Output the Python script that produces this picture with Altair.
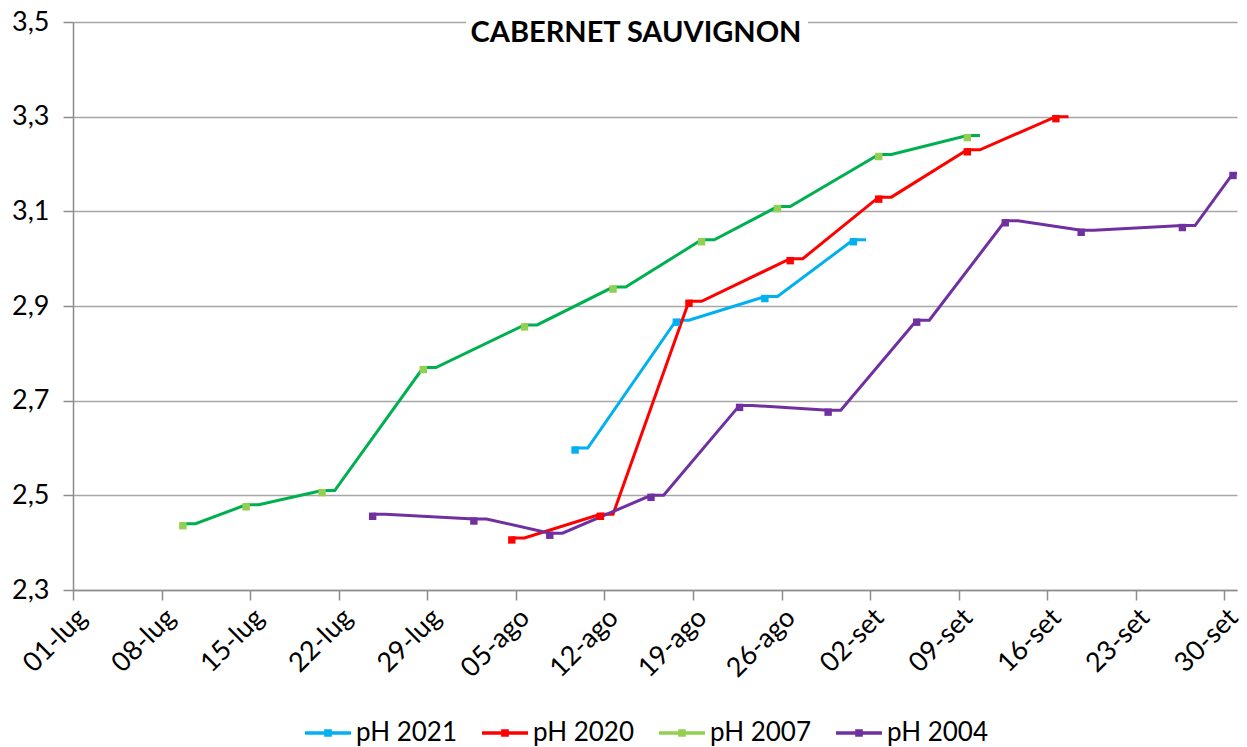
import altair as alt
import pandas as pd
from datetime import datetime, timedelta

# ---- data ----
chart_title = "CABERNET SAUVIGNON"
series_names = ["pH 2021", "pH 2020", "pH 2007", "pH 2004"]

dates_2021 = ["2021-08-10", "2021-08-18", "2021-08-25", "2021-09-01"]
ph_2021 = [2.60, 2.87, 2.92, 3.04]

dates_2020 = ["2021-08-05", "2021-08-12", "2021-08-19", "2021-08-27",
              "2021-09-03", "2021-09-10", "2021-09-17"]
ph_2020 = [2.41, 2.46, 2.91, 3.00, 3.13, 3.23, 3.30]

dates_2007 = ["2021-07-10", "2021-07-15", "2021-07-21", "2021-07-29", "2021-08-06",
              "2021-08-13", "2021-08-20", "2021-08-26", "2021-09-03", "2021-09-10"]
ph_2007 = [2.44, 2.48, 2.51, 2.77, 2.86, 2.94, 3.04, 3.11, 3.22, 3.26]

dates_2004 = ["2021-07-25", "2021-08-02", "2021-08-08", "2021-08-16", "2021-08-23",
              "2021-08-30", "2021-09-06", "2021-09-13", "2021-09-19", "2021-09-27",
              "2021-10-01"]
ph_2004 = [2.46, 2.45, 2.42, 2.50, 2.69, 2.68, 2.87, 3.08, 3.06, 3.07, 3.18]

x_tick_dates = ["2021-07-01", "2021-07-08", "2021-07-15", "2021-07-22", "2021-07-29",
                "2021-08-05", "2021-08-12", "2021-08-19", "2021-08-26", "2021-09-02",
                "2021-09-09", "2021-09-16", "2021-09-23", "2021-09-30"]
x_domain = ["2021-07-01", "2021-10-01"]
y_ticks = [2.3, 2.5, 2.7, 2.9, 3.1, 3.3, 3.5]
month_abbr = ["gen", "feb", "mar", "apr", "mag", "giu",
              "lug", "ago", "set", "ott", "nov", "dic"]

line_colors = ["#00B0F0", "#FF0000", "#00B050", "#7030A0"]
marker_colors = ["#00B0F0", "#FF0000", "#92D050", "#7030A0"]
legend_colors = ["#00B0F0", "#FF0000", "#92D050", "#7030A0"]

# ---- tables ----
all_dates = [dates_2021, dates_2020, dates_2007, dates_2004]
all_vals = [ph_2021, ph_2020, ph_2007, ph_2004]

pt_rows, ln_rows = [], []
for name, ds, vs in zip(series_names, all_dates, all_vals):
    for d, v in zip(ds, vs):
        dt = datetime.strptime(d, "%Y-%m-%d")
        pt_rows.append({"series": name, "date": dt.strftime("%Y-%m-%d"), "ph": v})
        ln_rows.append({"series": name, "date": dt.strftime("%Y-%m-%d"), "ph": v})
        ln_rows.append({"series": name, "date": (dt + timedelta(days=1)).strftime("%Y-%m-%d"), "ph": v})
points = pd.DataFrame(pt_rows)
lines = pd.DataFrame(ln_rows)
legend_df = pd.DataFrame({"series": series_names})
title_df = pd.DataFrame({"t": [chart_title]})


def dt_obj(s):
    t = datetime.strptime(s, "%Y-%m-%d")
    return alt.DateTime(year=t.year, month=t.month, date=t.day, utc=True)


FONT = "Lato"
month_expr = "[" + ",".join("'%s'" % m for m in month_abbr) + "]"

x_enc = alt.X(
    "date:T",
    scale=alt.Scale(type="utc", domain=[dt_obj(x_domain[0]), dt_obj(x_domain[1])]),
    axis=alt.Axis(
        title=None, grid=False, values=[dt_obj(s) for s in x_tick_dates],
        labelExpr="utcFormat(datum.value, '%d') + '-' + " + month_expr + "[utcmonth(datum.value)]",
        labelAngle=-45, labelFont=FONT, labelFontSize=27, labelColor="#000000",
        tickSize=10, tickColor="#8C8C8C", tickWidth=1.5,
        domainColor="#8C8C8C", domainWidth=1.5, labelPadding=4,
    ),
)
y_enc = alt.Y(
    "ph:Q",
    scale=alt.Scale(domain=[y_ticks[0], y_ticks[-1]], zero=False, nice=False),
    axis=alt.Axis(
        title=None, values=y_ticks,
        labelExpr="replace(format(datum.value, '.1f'), '.', ',')",
        labelFont=FONT, labelFontSize=27, labelColor="#000000", labelPadding=14,
        tickSize=10, tickColor="#8C8C8C", tickWidth=1.5,
        domainColor="#8C8C8C", domainWidth=1.5,
        gridColor="#A6A6A6", gridWidth=1.5,
    ),
)

# line with a small square in the middle (stroked outline -> looks filled)
legend_path = "M-1,0H1 M-0.09,-0.09H0.09V0.09H-0.09Z"

line_layer = alt.Chart(lines).mark_line(strokeWidth=3, xOffset=-4, clip=True).encode(
    x=x_enc, y=y_enc,
    stroke=alt.Stroke(
        "series:N", scale=alt.Scale(domain=series_names, range=line_colors),
        legend=None,
    ),
)
point_layer = alt.Chart(points).mark_point(
    filled=True, shape="square", size=55, opacity=1, xOffset=-4, yOffset=2
).encode(
    x=x_enc, y=y_enc,
    fill=alt.Fill(
        "series:N", scale=alt.Scale(domain=series_names, range=marker_colors),
        legend=None,
    ),
)


def make_legend():
    return alt.Legend(
        title=None, orient="none", direction="horizontal", legendX=230, legendY=686,
        symbolSize=2116, symbolStrokeWidth=3.5,
        labelFont=FONT, labelFontSize=26, labelColor="#000000",
        labelOffset=3, columnPadding=17, labelLimit=300,
    )


# legend: invisible data-driven layer that only feeds the legend
legend_layer = alt.Chart(legend_df).mark_point(opacity=0).encode(
    shape=alt.Shape(
        "series:N", scale=alt.Scale(domain=series_names, range=[legend_path] * 4),
        legend=make_legend(),
    ),
    stroke=alt.Stroke(
        "series:N", scale=alt.Scale(domain=series_names, range=legend_colors),
        legend=make_legend(),
    ),
)

title_bg = alt.Chart(title_df).mark_rect(color="white").encode(
    x=alt.value(393), x2=alt.value(735), y=alt.value(-3), y2=alt.value(3)
)
title_layer = alt.Chart(title_df).mark_text(
    font=FONT, fontSize=29, fontWeight="bold", color="#000000",
    align="center", baseline="alphabetic",
).encode(text="t:N", x=alt.value(563), y=alt.value(20))

chart = alt.layer(line_layer, point_layer, legend_layer, title_bg, title_layer).resolve_scale(
    stroke="independent", fill="independent", shape="independent"
).properties(
    width=1164, height=568,
    autosize=alt.AutoSizeParams(type="none"),
    padding={"left": 65, "top": 14, "right": 2, "bottom": 156},
).configure_view(stroke=None)

chart.save("out.html", embed_options={"renderer": "svg", "actions": False})
